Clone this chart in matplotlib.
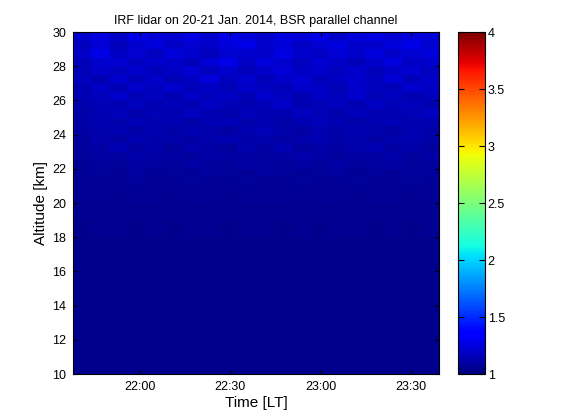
import matplotlib
matplotlib.use("Agg")
import matplotlib.pyplot as plt
import matplotlib.dates as mdates
import numpy as np
import pandas as pd

plt.rcParams['font.family'] = ['Liberation Sans', 'DejaVu Sans']

# observation window (local time) and profile count
t_start = "2014-01-20 21:37:40"
t_end = "2014-01-20 23:39:20"
n_profiles = 20

# altitude bin edges [km]
alt_edges = [10, 11, 12, 13, 14, 15, 16, 17, 18, 19, 20,
             20.5, 21, 21.5, 22, 22.5, 23, 23.5, 24, 24.5, 25,
             25.5, 26, 26.5, 27, 27.5, 28, 28.5, 29, 29.5, 30]

# backscatter ratio, rows listed from top (30 km) down to bottom (10 km)
bsr_top_down = [
    [1.21, 1.25, 1.19, 1.27, 1.23, 1.22, 1.26, 1.20, 1.28, 1.24, 1.21, 1.25, 1.23, 1.27, 1.19, 1.24, 1.26, 1.22, 1.25, 1.23],
    [1.17, 1.23, 1.16, 1.21, 1.25, 1.18, 1.22, 1.19, 1.24, 1.27, 1.20, 1.23, 1.18, 1.22, 1.25, 1.21, 1.19, 1.24, 1.27, 1.22],
    [1.19, 1.27, 1.18, 1.22, 1.17, 1.24, 1.20, 1.16, 1.22, 1.21, 1.19, 1.26, 1.21, 1.18, 1.23, 1.20, 1.25, 1.19, 1.22, 1.24],
    [1.16, 1.20, 1.22, 1.17, 1.21, 1.19, 1.16, 1.23, 1.27, 1.18, 1.24, 1.20, 1.17, 1.22, 1.19, 1.16, 1.21, 1.25, 1.18, 1.21],
    [1.15, 1.19, 1.17, 1.21, 1.16, 1.18, 1.22, 1.17, 1.20, 1.16, 1.19, 1.23, 1.18, 1.21, 1.17, 1.20, 1.16, 1.19, 1.22, 1.17],
    [1.17, 1.14, 1.20, 1.16, 1.19, 1.15, 1.18, 1.24, 1.17, 1.21, 1.16, 1.19, 1.22, 1.16, 1.18, 1.21, 1.17, 1.23, 1.16, 1.19],
    [1.14, 1.18, 1.15, 1.19, 1.17, 1.21, 1.16, 1.18, 1.15, 1.19, 1.17, 1.16, 1.20, 1.18, 1.15, 1.19, 1.17, 1.16, 1.20, 1.18],
    [1.13, 1.16, 1.20, 1.15, 1.17, 1.14, 1.19, 1.16, 1.18, 1.15, 1.21, 1.17, 1.14, 1.18, 1.16, 1.20, 1.15, 1.17, 1.14, 1.16],
    [1.12, 1.15, 1.13, 1.17, 1.14, 1.16, 1.13, 1.18, 1.15, 1.13, 1.16, 1.19, 1.14, 1.15, 1.17, 1.13, 1.18, 1.15, 1.16, 1.14],
    [1.11, 1.14, 1.16, 1.12, 1.15, 1.13, 1.17, 1.14, 1.12, 1.16, 1.14, 1.13, 1.17, 1.15, 1.12, 1.16, 1.14, 1.13, 1.15, 1.17],
    [1.11, 1.13, 1.12, 1.15, 1.12, 1.14, 1.11, 1.13, 1.16, 1.12, 1.14, 1.11, 1.13, 1.16, 1.14, 1.11, 1.13, 1.15, 1.12, 1.14],
    [1.10, 1.12, 1.14, 1.11, 1.13, 1.11, 1.14, 1.12, 1.10, 1.13, 1.15, 1.12, 1.10, 1.13, 1.11, 1.14, 1.12, 1.10, 1.13, 1.11],
    [1.09, 1.12, 1.10, 1.13, 1.11, 1.12, 1.10, 1.12, 1.14, 1.11, 1.12, 1.10, 1.12, 1.14, 1.11, 1.12, 1.10, 1.12, 1.13, 1.11],
    [1.09, 1.10, 1.13, 1.10, 1.11, 1.09, 1.12, 1.10, 1.09, 1.12, 1.10, 1.13, 1.09, 1.11, 1.10, 1.12, 1.14, 1.10, 1.11, 1.09],
    [1.08, 1.10, 1.09, 1.11, 1.10, 1.10, 1.09, 1.11, 1.10, 1.10, 1.09, 1.10, 1.12, 1.10, 1.09, 1.10, 1.10, 1.11, 1.09, 1.10],
    [1.07, 1.09, 1.08, 1.10, 1.09, 1.08, 1.10, 1.09, 1.08, 1.10, 1.09, 1.08, 1.10, 1.09, 1.10, 1.08, 1.09, 1.10, 1.08, 1.09],
    [1.07, 1.08, 1.07, 1.09, 1.07, 1.08, 1.07, 1.09, 1.08, 1.07, 1.09, 1.08, 1.07, 1.08, 1.09, 1.07, 1.08, 1.07, 1.09, 1.08],
    [1.06, 1.07, 1.06, 1.08, 1.07, 1.07, 1.08, 1.07, 1.07, 1.08, 1.07, 1.06, 1.08, 1.07, 1.07, 1.08, 1.06, 1.07, 1.08, 1.07],
    [1.06, 1.06, 1.07, 1.06, 1.06, 1.07, 1.06, 1.06, 1.07, 1.06, 1.06, 1.07, 1.06, 1.07, 1.06, 1.06, 1.07, 1.06, 1.06, 1.07],
    [1.05, 1.06, 1.05, 1.06, 1.06, 1.05, 1.06, 1.06, 1.05, 1.06, 1.06, 1.06, 1.05, 1.06, 1.06, 1.05, 1.06, 1.06, 1.05, 1.06],
    [1.05, 1.05, 1.05, 1.05, 1.05, 1.05, 1.05, 1.05, 1.05, 1.05, 1.05, 1.05, 1.05, 1.05, 1.05, 1.05, 1.05, 1.05, 1.05, 1.05],
    [1.04, 1.05, 1.05, 1.04, 1.05, 1.04, 1.05, 1.05, 1.04, 1.05, 1.05, 1.04, 1.05, 1.04, 1.05, 1.05, 1.04, 1.05, 1.04, 1.05],
    [1.04, 1.04, 1.04, 1.04, 1.04, 1.04, 1.04, 1.04, 1.04, 1.04, 1.04, 1.04, 1.04, 1.04, 1.04, 1.04, 1.04, 1.04, 1.04, 1.04],
    [1.04, 1.04, 1.04, 1.04, 1.04, 1.04, 1.04, 1.04, 1.04, 1.04, 1.04, 1.04, 1.04, 1.04, 1.04, 1.04, 1.04, 1.04, 1.04, 1.04],
    [1.04, 1.04, 1.04, 1.04, 1.04, 1.04, 1.04, 1.04, 1.04, 1.04, 1.04, 1.04, 1.04, 1.04, 1.04, 1.04, 1.04, 1.04, 1.04, 1.04],
    [1.04, 1.04, 1.04, 1.04, 1.04, 1.04, 1.04, 1.04, 1.04, 1.04, 1.04, 1.04, 1.04, 1.04, 1.04, 1.04, 1.04, 1.04, 1.04, 1.04],
    [1.04, 1.04, 1.04, 1.04, 1.04, 1.04, 1.04, 1.04, 1.04, 1.04, 1.04, 1.04, 1.04, 1.04, 1.04, 1.04, 1.04, 1.04, 1.04, 1.04],
    [1.04, 1.04, 1.04, 1.04, 1.04, 1.04, 1.04, 1.04, 1.04, 1.04, 1.04, 1.04, 1.04, 1.04, 1.04, 1.04, 1.04, 1.04, 1.04, 1.04],
    [1.04, 1.04, 1.04, 1.04, 1.04, 1.04, 1.04, 1.04, 1.04, 1.04, 1.04, 1.04, 1.04, 1.04, 1.04, 1.04, 1.04, 1.04, 1.04, 1.04],
    [1.04, 1.04, 1.04, 1.04, 1.04, 1.04, 1.04, 1.04, 1.04, 1.04, 1.04, 1.04, 1.04, 1.04, 1.04, 1.04, 1.04, 1.04, 1.04, 1.04],
]

time_ticks = ["22:00", "22:30", "23:00", "23:30"]
alt_ticks = [10, 12, 14, 16, 18, 20, 22, 24, 26, 28, 30]
cbar_ticks = [1, 1.5, 2, 2.5, 3, 3.5, 4]

bsr = np.array(bsr_top_down)[::-1]
time_edges = pd.date_range(t_start, t_end, periods=n_profiles + 1)

fig = plt.figure(figsize=(5.61, 4.2), dpi=100)
ax = fig.add_axes([0.130, 0.1095, 0.6525, 0.8143])
cax = fig.add_axes([0.8164, 0.1095, 0.048, 0.8143])

mesh = ax.pcolormesh(mdates.date2num(time_edges), alt_edges, bsr,
                     cmap='jet', vmin=1, vmax=4, shading='flat')

ax.set_xlim(mdates.date2num(time_edges[0]), mdates.date2num(time_edges[-1]))
ax.set_ylim(10, 30)
ax.set_xticks(mdates.date2num(pd.to_datetime(["2014-01-20 " + t for t in time_ticks])))
ax.xaxis.set_major_formatter(mdates.DateFormatter('%H:%M'))
ax.set_yticks(alt_ticks)
ax.tick_params(direction='in', top=True, right=True, labelsize=9, length=3, pad=5)
ax.set_xlabel('Time [LT]', fontsize=11, labelpad=2)
ax.set_ylabel('Altitude [km]', fontsize=11, labelpad=3)
ax.set_title('IRF lidar on 20-21 Jan. 2014, BSR parallel channel', fontsize=9, pad=6)

cb = fig.colorbar(mesh, cax=cax, ticks=cbar_ticks)
cb.ax.set_yticklabels([f'{t:g}' for t in cbar_ticks])
cax.tick_params(direction='in', left=True, right=True, labelsize=9, length=4, pad=2)
cb.outline.set_linewidth(0.8)

fig.savefig('out.png', dpi=100)
